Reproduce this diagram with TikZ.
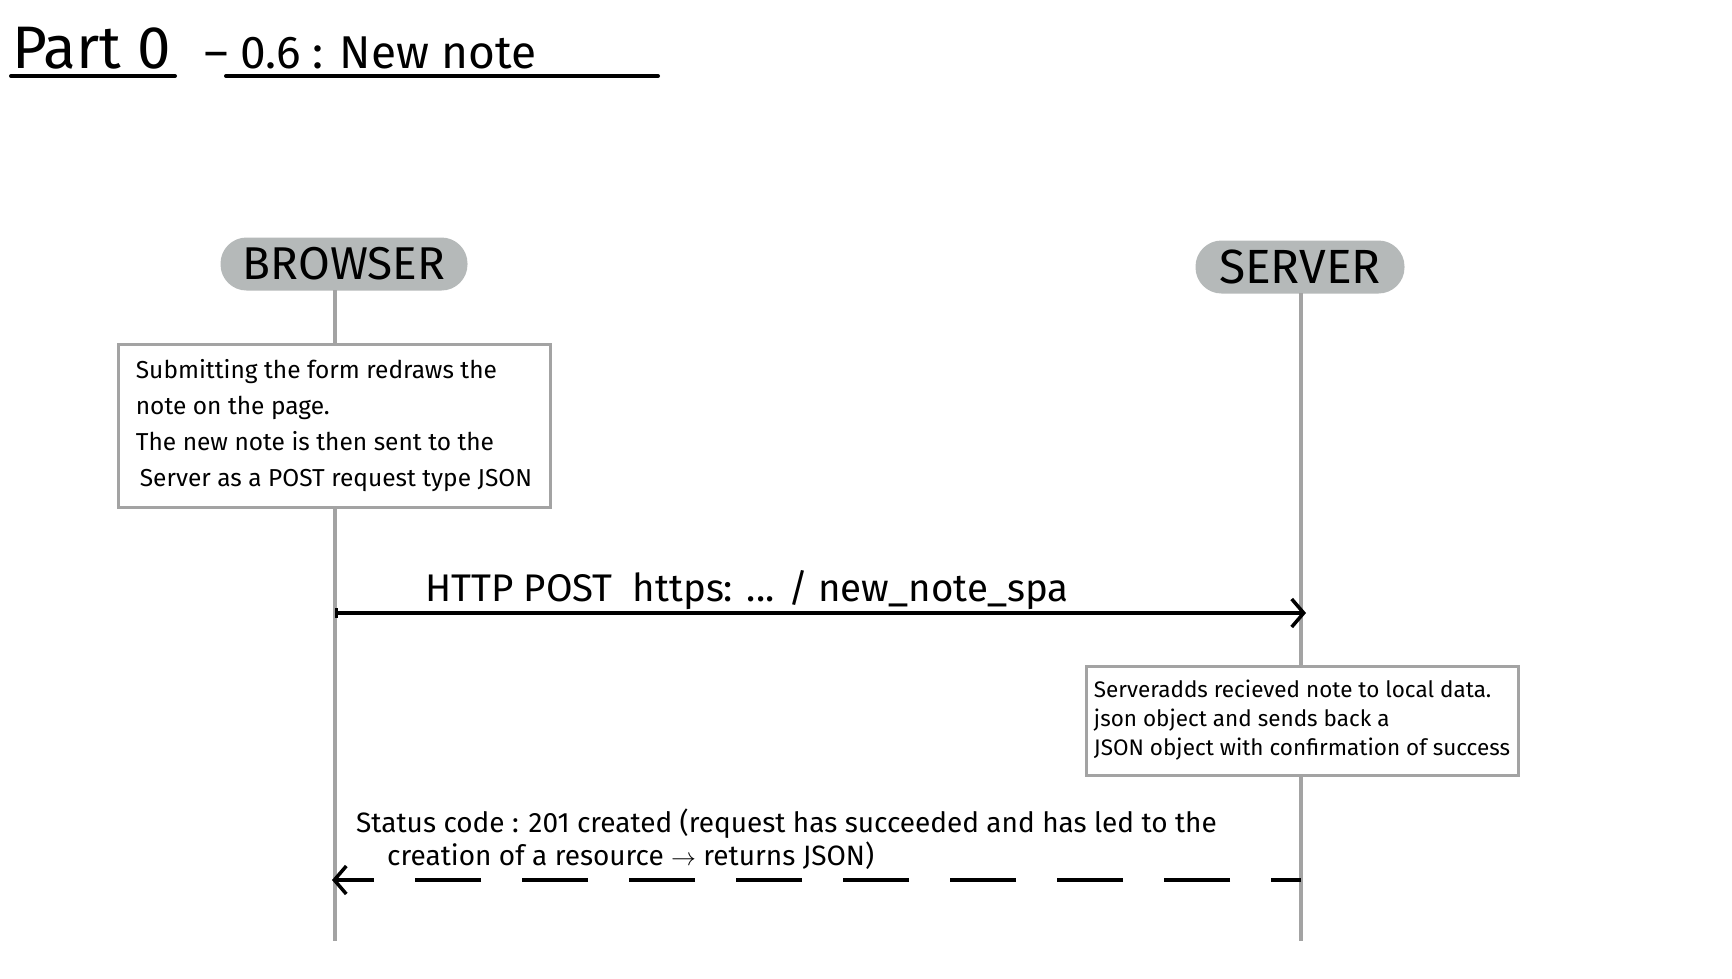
\documentclass[tikz,border=0pt]{standalone}
\usepackage{fontspec}
\setmainfont{Fira Sans}
\usetikzlibrary{arrows.meta}
\definecolor{pillgray}{HTML}{B5B9B9}
\definecolor{linegray}{HTML}{A3A3A3}
\begin{document}
\begin{tikzpicture}[x=1pt,y=-1pt,
  actor/.style={fill=pillgray, rounded corners=26pt, minimum width=247, minimum height=53, inner sep=0pt, font=\fontsize{46}{50}\selectfont},
  lifeline/.style={draw=linegray, line width=4pt},
  notebox/.style={draw=linegray, line width=3pt, fill=white, align=left, inner sep=0pt},
  msg/.style={line width=3.5pt, -{Straight Barb[length=12pt,width=28pt,line width=3.5pt]}}]
\useasboundingbox (0,0) rectangle (1732,978);
\node[anchor=base west, inner sep=0pt, font=\fontsize{60}{66}\selectfont] (part) at (12,68) {Part 0};
\node[anchor=base west, inner sep=0pt, font=\fontsize{46}{50}\selectfont] (topic) at (204,68) {– 0.6 : New note};
\draw[line width=4pt, line cap=round] (11,76) -- (175,76);
\draw[line width=4pt, line cap=round] (226,76) -- (658,76);
\node[actor] (browser) at (344,264) {BROWSER};
\node[actor, minimum width=209, font=\fontsize{48}{52}\selectfont] (server) at (1300,267) {SERVER};
\coordinate (btop) at (335,290);
\coordinate (bend) at (335,941);
\coordinate (stop) at (1301,293);
\coordinate (send) at (1301,941);
\draw[lifeline] (btop) -- (bend);
\draw[lifeline] (stop) -- (send);
\node[notebox, minimum width=432, minimum height=163, font=\fontsize{24.5}{36}\selectfont] (bnote) at (334,425.5) {Submitting the form redraws the\\note on the page.\\The new note is then sent to the\\\hspace*{4pt}Server as a POST request type JSON};
\node[notebox, minimum width=432, minimum height=109, font=\fontsize{22.5}{29}\selectfont] (snote) at (1302,720.5) {Serveradds recieved note to local data.\\json object and sends back a\\JSON object with confirmation of success};
\coordinate (bpost) at (335,613);
\coordinate (spost) at (1306,613);
\draw[msg, {Bar[width=10pt,line width=3pt]}-{Straight Barb[length=12pt,width=28pt,line width=3.5pt]}] (bpost) -- (spost);
\node[inner sep=0pt, font=\fontsize{38.5}{42}\selectfont] (postlabel) at (747,590) {HTTP POST\hspace{20pt}https: ... / new\_note\_spa};
\coordinate (sret) at (1301,880);
\coordinate (bret) at (332,880);
\draw[msg, dash pattern=on 66pt off 41pt, dash phase=36pt] (sret) -- (bret);
\node[anchor=west, inner sep=0pt, align=left, font=\fontsize{28}{33}\selectfont] (retlabel) at (356,839) {Status code : 201 created (request has succeeded and has led to the\\\hspace*{31pt}creation of a resource $\rightarrow$ returns JSON)};
\end{tikzpicture}
\end{document}
